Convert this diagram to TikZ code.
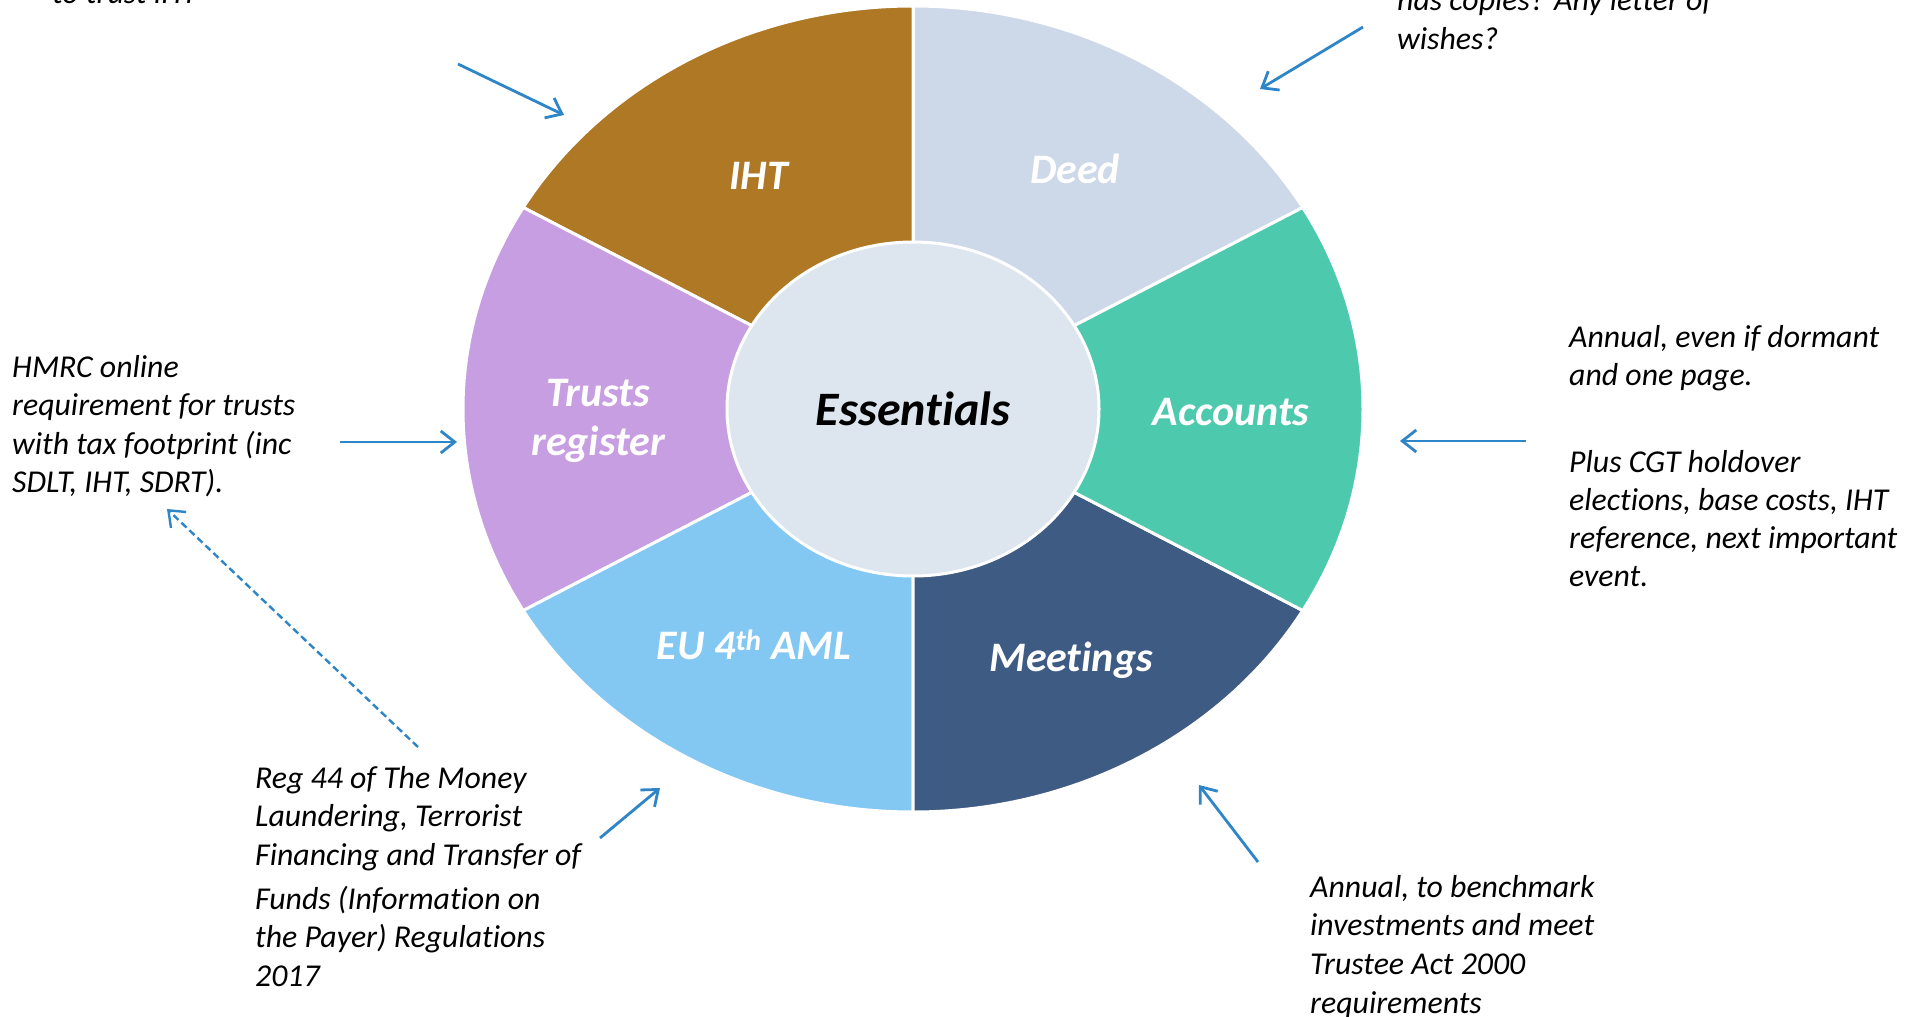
\documentclass[tikz,border=0pt]{standalone}
\usepackage{fontspec}
\setmainfont{Carlito}[Ligatures=NoCommon]
\usetikzlibrary{arrows.meta,calc}
\definecolor{ihtc}{RGB}{174,120,36}
\definecolor{deedc}{RGB}{205,216,232}
\definecolor{accc}{RGB}{77,202,174}
\definecolor{meetc}{RGB}{62,91,132}
\definecolor{euc}{RGB}{130,200,243}
\definecolor{trustc}{RGB}{198,158,225}
\definecolor{centc}{RGB}{221,229,239}
\definecolor{arrowc}{RGB}{46,134,200}
\newcommand\wedgeseg[3]{%
  \filldraw[wedge,fill=#1] (C) -- ($(C)+(#2:450 and 403)$)
    arc[start angle=#2,end angle=#3,x radius=450,y radius=403] -- cycle;}
\begin{document}
\begin{tikzpicture}[x=1pt,y=1pt,
  wedge/.style={draw=white,line width=3pt,line join=round},
  seglabel/.style={text=white,font=\fontsize{42}{49}\selectfont\bfseries\itshape,align=center,inner sep=0},
  note/.style={anchor=base west,align=left,inner sep=0,font=\fontsize{31.8}{39}\selectfont\itshape},
  arr/.style={draw=arrowc,line width=2.8pt,-{Straight Barb[length=14pt,width=22pt]}},
  darr/.style={arr,line width=2.4pt,dash pattern=on 7pt off 4pt}]
\useasboundingbox (0,0) rectangle (1920,-1017);
\fill[white] (0,0) rectangle (1920,-1017);
\coordinate (C) at (913,-409);
\wedgeseg{deedc}{30}{90}
\wedgeseg{ihtc}{90}{150}
\wedgeseg{trustc}{150}{210}
\wedgeseg{euc}{210}{270}
\wedgeseg{meetc}{270}{330}
\wedgeseg{accc}{-30}{30}
\filldraw[fill=centc,draw=white,line width=3pt] (C) ellipse[x radius=186,y radius=167];
\node[font=\fontsize{48}{56}\selectfont\bfseries\itshape,inner sep=0] (ess) at (C) {Essentials};
\node[seglabel] (iht) at (759,-176) {IHT};
\node[seglabel] (deed) at (1075,-169) {Deed};
\node[seglabel] (acc) at (1231,-412) {Accounts};
\node[seglabel] (meet) at (1071,-660) {Meetings};
\node[seglabel] (eu) at (754,-645) {EU 4\textsuperscript{th} AML};
\node[seglabel] (trust) at (598,-421) {Trusts\\register};
% notes (anchored at the baseline of their last line)
\node[note] (nIHT) at (52,-3) {to trust IHT};
\node[note] (nDeed) at (1397,-49) {has copies? Any letter of\\wishes?};
\node[note,font=\fontsize{31.8}{38.5}\selectfont\itshape] (nTR) at (12,-492.5) {HMRC online\\requirement for trusts\\with tax footprint (inc\\SDLT, IHT, SDRT).};
\node[note,font=\fontsize{31.8}{38}\selectfont\itshape] (nAcc) at (1569,-586) {Annual, even if dormant\\and one page.\\[49pt]Plus CGT holdover\\elections, base costs, IHT\\reference, next important\\event.};
\node[note,font=\fontsize{31.8}{38.3}\selectfont\itshape] (nEU) at (255,-986) {Reg 44 of The Money\\Laundering, Terrorist\\Financing and Transfer of\\[6pt]Funds (Information on\\the Payer) Regulations\\2017};
\node[note,font=\fontsize{31.8}{38.8}\selectfont\itshape] (nMeet) at (1310,-1013.5) {Annual, to benchmark\\investments and meet\\Trustee Act 2000\\requirements};
% arrow end points
\coordinate (a1s) at (458,-64);   \coordinate (a1e) at (564,-115);
\coordinate (a2s) at (1363,-27);  \coordinate (a2e) at (1260,-89);
\coordinate (a3s) at (340,-442);  \coordinate (a3e) at (457,-442);
\coordinate (a4s) at (1526,-441); \coordinate (a4e) at (1400,-441);
\coordinate (a5s) at (600,-838);  \coordinate (a5e) at (660,-788);
\coordinate (a6s) at (1258,-862); \coordinate (a6e) at (1199,-785);
\coordinate (a7s) at (418,-747);  \coordinate (a7e) at (167,-509);
\draw[arr] (a1s) -- (a1e);
\draw[arr] (a2s) -- (a2e);
\draw[arr] (a3s) -- (a3e);
\draw[arr] (a4s) -- (a4e);
\draw[arr] (a5s) -- (a5e);
\draw[arr] (a6s) -- (a6e);
\draw[darr] (a7s) -- (a7e);
\end{tikzpicture}
\end{document}
